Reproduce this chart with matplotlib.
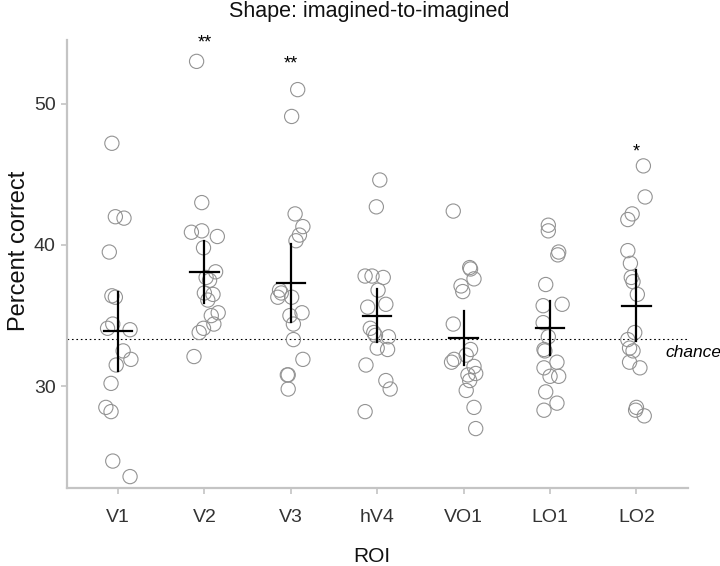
import numpy as np
import matplotlib
matplotlib.use('Agg')
import matplotlib.pyplot as plt

# ROI names and per-subject accuracy (percent correct)
rois = ['V1', 'V2', 'V3', 'hV4', 'VO1', 'LO1', 'LO2']

v1 = [47.2, 42.0, 41.9, 39.5, 36.4, 36.3, 34.4, 34.1, 34.0, 32.5, 31.9, 31.5, 30.2, 28.5, 28.2, 24.7, 23.6]
v2 = [53.0, 43.0, 41.0, 40.9, 40.6, 39.8, 38.1, 37.7, 37.5, 36.6, 36.5, 36.1, 35.2, 35.0, 34.4, 34.1, 33.8, 32.1]
v3 = [51.0, 49.1, 42.2, 41.3, 40.7, 40.3, 36.8, 36.6, 36.3, 36.3, 35.2, 35.0, 34.4, 33.3, 31.9, 30.8, 30.8, 29.8]
hv4 = [44.6, 42.7, 37.8, 37.8, 37.7, 36.8, 35.6, 35.8, 34.1, 33.8, 33.6, 33.5, 32.7, 32.6, 31.5, 30.4, 29.8, 28.2]
vo1 = [42.4, 38.4, 38.3, 37.6, 37.1, 36.7, 34.4, 32.6, 32.2, 31.9, 31.7, 31.4, 30.9, 30.8, 30.4, 29.7, 28.5, 27.0]
lo1 = [41.4, 41.0, 39.5, 39.3, 37.2, 35.7, 35.8, 34.5, 33.5, 32.6, 32.5, 31.7, 31.3, 30.7, 30.7, 29.6, 28.8, 28.3]
lo2 = [45.6, 43.4, 42.2, 41.8, 39.6, 38.7, 37.7, 37.4, 36.5, 33.8, 33.3, 32.7, 32.5, 31.7, 31.3, 28.5, 28.3, 27.9]

# horizontal jitter of each point (in category units), as seen in the figure
jit_v1 = [-0.07, -0.03, 0.07, -0.10, -0.07, -0.03, -0.06, -0.12, 0.14, 0.06, 0.15, -0.02, -0.08, -0.14, -0.08, -0.06, 0.14]
jit_v2 = [-0.09, -0.03, -0.03, -0.15, 0.15, -0.01, 0.13, 0.02, 0.06, 0.0, 0.10, 0.04, 0.16, 0.08, 0.11, -0.01, -0.06, -0.12]
jit_v3 = [0.08, 0.01, 0.05, 0.14, 0.10, 0.06, -0.13, -0.11, -0.15, 0.01, 0.13, -0.01, 0.03, 0.03, 0.14, -0.04, -0.03, -0.03]
jit_hv4 = [0.03, -0.01, -0.14, -0.06, 0.07, 0.01, -0.11, 0.10, -0.08, -0.04, -0.02, 0.13, 0.0, 0.12, -0.13, 0.10, 0.15, -0.14]
jit_vo1 = [-0.12, 0.07, 0.08, 0.12, -0.03, -0.01, -0.12, 0.08, 0.03, -0.11, -0.14, 0.12, 0.14, 0.05, 0.07, 0.03, 0.12, 0.14]
jit_lo1 = [-0.02, -0.02, 0.10, 0.09, -0.05, -0.08, 0.14, -0.08, -0.02, -0.07, -0.06, 0.08, -0.07, 0.0, 0.10, -0.05, 0.08, -0.07]
jit_lo2 = [0.08, 0.10, -0.05, -0.10, -0.10, -0.07, -0.06, -0.04, 0.01, -0.02, -0.10, -0.08, -0.04, -0.08, 0.04, 0.0, -0.01, 0.09]

# group means and error bar half-widths
means = [33.9, 38.1, 37.3, 35.0, 33.4, 34.1, 35.7]
errs = [2.8, 2.2, 2.75, 1.9, 1.9, 1.9, 2.5]

# significance marks
stars = ['', '**', '**', '', '', '', '*']
star_y = [None, 54.3, 52.8, None, None, None, 46.6]

chance = 100.0 / 3

data = [v1, v2, v3, hv4, vo1, lo1, lo2]
jitter = [jit_v1, jit_v2, jit_v3, jit_hv4, jit_vo1, jit_lo1, jit_lo2]

plt.rcParams['font.family'] = ['Liberation Sans', 'DejaVu Sans']

fig = plt.figure(figsize=(7.2, 5.66), dpi=100)
ax = fig.add_axes([0.093, 0.138, 0.863, 0.791])

for i in range(len(rois)):
    xs = i + np.array(jitter[i])
    ax.scatter(xs, data[i], s=105, facecolors='none', edgecolors='#939393', linewidths=0.8, zorder=2)

# mean crosshair + error bar
for i in range(len(rois)):
    ax.plot([i - 0.165, i + 0.165], [means[i], means[i]], color='black', lw=1.6, zorder=3)
    ax.plot([i, i], [means[i] - errs[i], means[i] + errs[i]], color='black', lw=1.6, zorder=3)
    if stars[i]:
        ax.text(i, star_y[i], stars[i], ha='center', va='center', fontsize=13)

ax.plot([-0.59, 6.6], [chance, chance], color='black', lw=0.8, linestyle=(0, (1.5, 2.5)), zorder=1)
ax.text(6.33, chance - 0.95, 'chance', style='italic', fontsize=12.5, ha='left', va='center', clip_on=False)

ax.set_xlim(-0.59, 6.6)
ax.set_ylim(22.8, 54.5)
ax.set_xticks(range(len(rois)))
ax.set_xticklabels(rois)
ax.set_yticks([30, 40, 50])

for s in ['top', 'right']:
    ax.spines[s].set_visible(False)
for s in ['left', 'bottom']:
    ax.spines[s].set_color('#c4c4c4')
    ax.spines[s].set_linewidth(1.6)
ax.tick_params(axis='both', colors='#c4c4c4', labelcolor='#333333', labelsize=14, length=4, width=1.2)
ax.tick_params(axis='x', pad=11)
ax.tick_params(axis='y', pad=4)

ax.set_xlabel('ROI', fontsize=15, color='#111111')
ax.xaxis.set_label_coords(0.49, -0.132)
ax.set_ylabel('Percent correct', fontsize=17, color='#111111')
ax.yaxis.set_label_coords(-0.06, 0.529)
fig.text(369 / 720, 1 - 12 / 566, 'Shape: imagined-to-imagined', fontsize=15.5, color='#111111',
         ha='center', va='center')

fig.savefig('out.png', dpi=100)
